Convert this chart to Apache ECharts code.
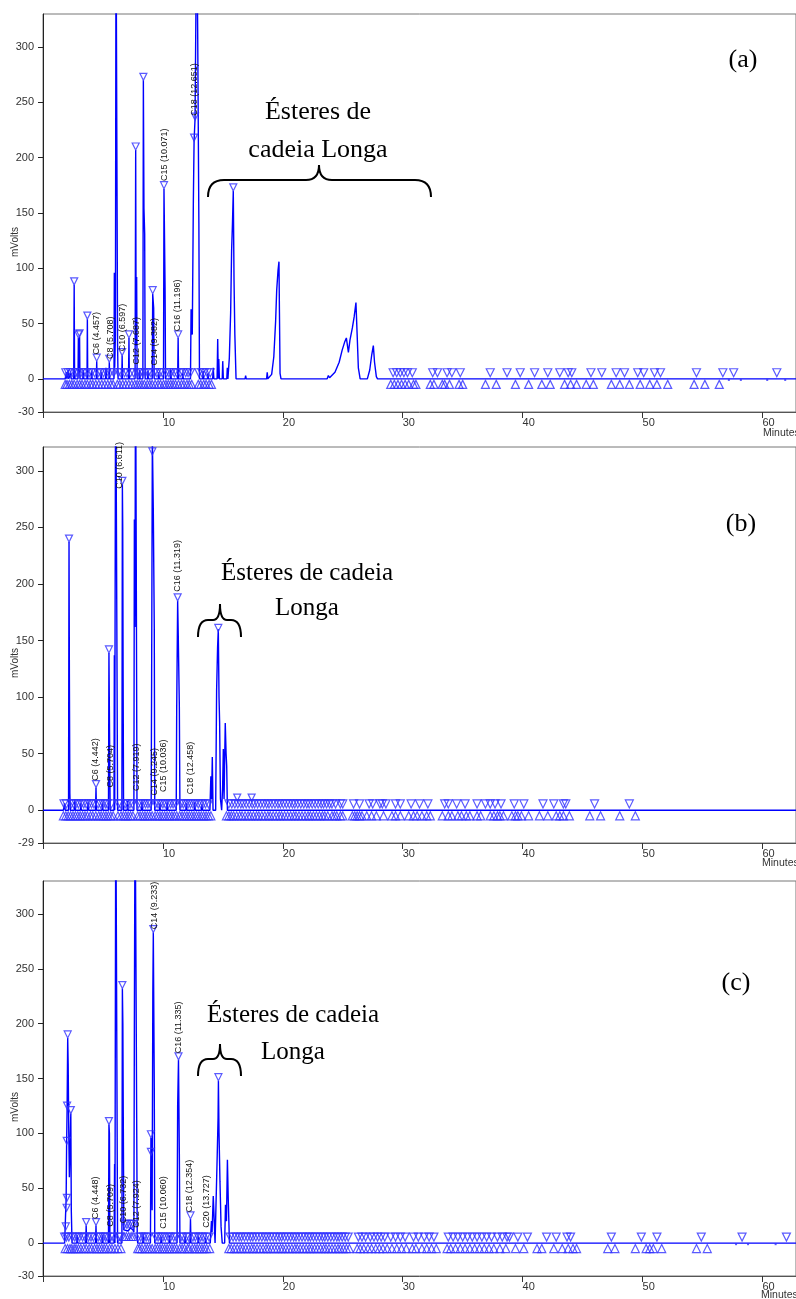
<!DOCTYPE html>
<html><head><meta charset="utf-8">
<script src="https://cdn.jsdelivr.net/npm/echarts@6/dist/echarts.min.js"></script>
<style>html,body{margin:0;padding:0;background:#fff}#c{width:796px;height:1299px}</style>
</head><body><div id="c"></div>
<script>
// ---------- axes ----------
const X_MAX = 62.8;
const xTicks = [0,10,20,30,40,50,60];
const xTickLabels = [10,20,30,40,50,60];
const yTicksA = [-30,0,50,100,150,200,250,300];
const yTicksB = [-29,0,50,100,150,200,250,300];
const yTicksC = [-30,0,50,100,150,200,250,300];
const yRangeA = [-30,330];
const yRangeB = [-29,321];
const yRangeC = [-30,330];

// ---------- panel (a) ----------
const traceA = [[0,0],[1.85,0],[1.95,6],[2.0,0],[2.1,8],[2.15,0],[2.3,5],[2.35,0],[2.56,0],[2.6,85],[2.63,10],[2.66,0],[2.92,0],[2.95,37],[3.0,5],[3.05,38],[3.08,0],[3.32,0],[3.35,8],[3.4,0],[3.67,0],[3.7,54],[3.73,0],[4.02,0],[4.05,7],[4.1,0],[4.45,0],[4.48,16],[4.51,0],[4.82,0],[4.85,6],[4.9,0],[5.22,0],[5.25,10],[5.3,0],[5.5,0],[5.53,15],[5.56,0],[5.92,0],[5.95,96],[5.98,10],[6.04,40],[6.09,420],[6.18,420],[6.22,30],[6.26,0],[6.57,0],[6.6,21],[6.63,0],[7.13,0],[7.17,37],[7.2,0],[7.68,0],[7.73,207],[7.77,30],[7.81,92],[7.85,0],[8.02,0],[8.05,8],[8.1,0],[8.33,0],[8.37,270],[8.42,154],[8.48,131],[8.52,0],[8.72,0],[8.75,7],[8.8,0],[9.11,0],[9.15,77],[9.23,64],[9.27,0],[9.62,0],[9.65,6],[9.7,0],[10.05,0],[10.09,172],[10.18,83],[10.22,0],[10.62,0],[10.65,8],[10.7,0],[11.23,0],[11.27,37],[11.31,0],[11.62,0],[11.65,5],[11.7,0],[12.3,0],[12.35,63],[12.45,40],[12.54,162],[12.6,215],[12.68,235],[12.82,420],[12.9,315],[13.0,141],[13.05,0],[13.32,0],[13.35,7],[13.4,0],[13.72,0],[13.75,5],[13.8,0],[14.15,0],[14.2,10],[14.25,0],[14.52,0],[14.57,36],[14.62,0],[14.66,18],[14.71,0],[14.95,0],[14.99,16],[15.04,0],[15.33,0],[15.37,10],[15.42,0],[15.54,19],[15.65,60],[15.73,116],[15.8,140],[15.87,170],[15.93,90],[16.0,40],[16.1,0],[16.85,0],[16.9,3],[16.95,0],[18.65,0],[18.7,6],[18.75,0],[19.07,4],[19.25,20],[19.4,52],[19.49,80],[19.6,98],[19.68,106],[19.72,60],[19.77,5],[19.85,0],[23.7,0],[23.8,3],[23.9,1],[24.35,6],[24.7,15],[24.95,26],[25.15,33],[25.3,37],[25.47,24],[25.6,35],[25.8,46],[25.95,56],[26.1,69],[26.2,40],[26.3,10],[26.45,0],[27.05,0],[27.25,8],[27.42,22],[27.55,30],[27.65,15],[27.8,2],[27.9,0],[62.8,0]];
const peaksA = [[2.6,85],[2.95,37],[3.05,38],[3.7,54],[4.48,16],[5.53,15],[6.6,21],[7.17,37],[7.73,207],[8.37,270],[9.15,77],[10.09,172],[11.27,37],[12.6,215],[12.68,234],[15.87,170]];
const downA = [1.9,2.1,2.3,2.5,2.75,2.9,3.15,3.4,3.6,3.85,4.05,4.3,4.6,4.8,5.05,5.3,5.6,5.9,6.3,6.5,6.8,7.0,7.3,7.55,7.9,8.1,8.3,8.55,8.8,9.0,9.3,9.5,9.75,9.95,10.3,10.5,10.7,10.95,11.15,11.45,11.65,11.9,12.1,12.3,13.0,13.25,13.45,13.7,13.95,29.2,29.5,29.8,30.1,30.4,30.8,32.5,32.9,33.7,34.1,34.8,37.3,38.7,39.8,41.0,42.1,43.1,43.8,44.1,45.7,46.6,47.8,48.5,49.6,50.1,51.0,51.5,54.5,56.7,57.6,61.2];
const upA = [1.85,2.0,2.2,2.4,2.6,2.85,3.05,3.25,3.5,3.7,3.95,4.15,4.4,4.65,4.9,5.15,5.4,5.65,5.85,6.2,6.4,6.65,6.9,7.15,7.4,7.65,7.85,8.05,8.25,8.45,8.7,8.9,9.1,9.35,9.6,9.8,10.05,10.25,10.45,10.65,10.85,11.05,11.3,11.55,11.75,12.0,12.2,12.4,12.95,13.15,13.4,13.6,13.85,14.05,29.0,29.3,29.6,29.9,30.2,30.5,30.9,31.1,32.3,32.6,33.3,33.5,33.9,34.7,35.0,36.9,37.8,39.4,40.5,41.6,42.3,43.5,44.0,44.5,45.3,45.9,47.4,48.1,48.9,49.8,50.6,51.2,52.1,54.3,55.2,56.4];
const dotsA = [57.2,58.2,60.4,61.9];
const labelNamesA = ['C6 (4.457)','C8 (5.708)','C10 (6.597)','C12 (7.687)','C14 (9.382)','C15 (10.071)','C16 (11.196)','C18 (12.651)'];
const labelAtA = [[4.5,22],[5.65,18],[6.6,25],[7.84,13],[9.34,12],[10.1,179],[11.26,43],[12.6,238]];

// ---------- panel (b) ----------
const traceB = [[0,0],[1.7,0],[1.8,6],[1.85,0],[2.13,0],[2.17,237],[2.2,119],[2.24,15],[2.28,0],[2.62,0],[2.65,8],[2.7,0],[3.12,0],[3.15,6],[3.2,0],[3.72,0],[3.75,7],[3.8,0],[4.38,0],[4.42,20],[4.46,0],[4.92,0],[4.95,6],[5.0,0],[5.46,0],[5.5,139],[5.55,68],[5.6,0],[5.92,0],[5.95,137],[5.98,0],[6.02,0],[6.06,420],[6.18,420],[6.22,0],[6.58,0],[6.62,288],[6.65,249],[6.68,124],[6.72,0],[7.02,0],[7.05,8],[7.1,0],[7.58,0],[7.62,257],[7.67,162],[7.72,420],[7.8,420],[7.84,0],[8.22,0],[8.25,7],[8.3,0],[9.02,0],[9.06,117],[9.12,330],[9.2,264],[9.28,162],[9.32,0],[9.72,0],[9.75,6],[9.8,0],[10.32,0],[10.35,7],[10.4,0],[11.11,0],[11.15,88],[11.23,185],[11.28,155],[11.37,92],[11.42,0],[11.92,0],[11.95,6],[12.0,0],[12.62,0],[12.65,7],[12.7,0],[13.22,0],[13.25,5],[13.3,0],[13.92,0],[14.0,30],[14.06,10],[14.12,47],[14.18,0],[14.4,0],[14.48,106],[14.56,144],[14.62,160],[14.68,100],[14.73,78],[14.8,10],[14.9,0],[14.98,20],[15.04,54],[15.1,10],[15.2,77],[15.27,50],[15.32,39],[15.38,0],[62.8,0]];
const peaksB = [[2.17,237],[4.42,20],[5.5,139],[6.62,288],[9.12,314],[11.23,185],[14.62,158],[16.2,8],[17.4,8]];
const downB = [1.75,1.95,2.35,2.55,2.75,2.95,3.2,3.4,3.6,3.85,4.05,4.25,4.6,4.8,5.0,5.2,5.35,5.7,6.3,6.45,6.85,7.05,7.25,7.45,7.95,8.15,8.35,8.55,8.75,8.95,9.4,9.6,9.8,10.0,10.2,10.45,10.65,10.85,11.05,11.5,11.7,11.9,12.1,12.3,12.5,12.7,12.95,13.15,13.35,13.55,13.8,15.5,15.75,16.0,16.25,16.5,16.7,16.95,17.2,17.45,17.65,17.9,18.15,18.4,18.65,18.85,19.1,19.35,19.6,19.8,20.05,20.3,20.55,20.8,21.0,21.25,21.5,21.75,22.0,22.2,22.45,22.7,22.95,23.2,23.4,23.65,23.9,24.1,24.4,24.8,25.0,25.9,26.4,27.2,27.5,28.1,28.3,28.6,29.4,29.8,30.7,31.4,32.1,33.5,33.8,34.5,35.2,36.2,36.9,37.3,37.7,38.2,39.3,40.1,41.7,42.6,43.4,43.6,46.0,48.9];
const upB = [1.7,1.9,2.1,2.3,2.5,2.7,2.9,3.1,3.3,3.5,3.7,3.95,4.15,4.4,4.65,4.85,5.05,5.25,5.45,5.65,5.85,6.25,6.5,6.7,6.9,7.1,7.3,7.5,7.9,8.1,8.3,8.5,8.7,8.9,9.1,9.35,9.55,9.75,9.95,10.15,10.35,10.55,10.75,10.95,11.15,11.4,11.6,11.8,12.0,12.2,12.4,12.6,12.8,13.0,13.2,13.4,13.6,13.8,14.0,15.3,15.5,15.7,15.9,16.15,16.4,16.6,16.85,17.1,17.3,17.55,17.8,18.0,18.25,18.5,18.75,18.95,19.2,19.45,19.7,19.9,20.15,20.4,20.65,20.9,21.1,21.35,21.6,21.85,22.1,22.3,22.55,22.8,23.05,23.3,23.5,23.75,24.1,24.3,24.5,24.8,25.0,25.8,26.0,26.2,26.4,26.6,27.0,27.4,27.8,28.4,29.1,29.4,29.8,30.5,30.9,31.2,31.6,32.0,32.3,33.3,33.8,34.1,34.6,34.9,35.3,35.6,36.2,36.5,37.3,37.6,37.9,38.1,38.4,39.1,39.4,39.6,39.9,40.5,41.4,42.1,42.8,43.1,43.4,43.9,45.6,46.5,48.1,49.4];
const dotsB = [];
const labelNamesB = ['C6 (4.442)','C8 (5.704)','C10 (6.611)','C12 (7.919)','C14 (9.245)','C15 (10.036)','C16 (11.319)','C18 (12.458)'];
const labelAtB = [[4.42,26],[5.65,20],[6.42,284],[7.81,17],[9.26,13],[10.03,16],[11.23,193],[12.34,14]];

// ---------- panel (c) ----------
const traceC = [[0,0],[1.8,0],[1.84,12],[1.88,25],[1.93,40],[1.97,90],[2.01,122],[2.06,187],[2.1,163],[2.15,100],[2.2,60],[2.25,85],[2.32,118],[2.36,30],[2.42,0],[2.82,0],[2.85,7],[2.9,0],[3.56,0],[3.6,16],[3.64,0],[4.38,0],[4.42,16],[4.46,0],[4.92,0],[4.95,7],[5.0,0],[5.46,0],[5.5,108],[5.54,100],[5.58,0],[5.93,0],[5.97,72],[6.0,0],[6.03,0],[6.07,420],[6.18,420],[6.22,0],[6.58,0],[6.62,232],[6.66,200],[6.7,104],[6.74,12],[6.9,13],[7.1,11],[7.3,14],[7.5,12],[7.58,10],[7.62,198],[7.68,420],[7.82,420],[7.86,5],[7.9,0],[8.32,0],[8.35,8],[8.4,0],[8.96,0],[9.0,96],[9.04,80],[9.1,30],[9.16,228],[9.2,283],[9.28,143],[9.32,0],[9.82,0],[9.85,6],[9.9,0],[10.52,0],[10.55,7],[10.6,0],[11.18,0],[11.23,125],[11.3,167],[11.37,82],[11.42,0],[11.82,0],[11.85,6],[11.9,0],[12.26,0],[12.3,22],[12.34,0],[12.92,0],[12.95,6],[13.0,0],[13.52,0],[13.55,5],[13.6,0],[13.95,0],[14.05,20],[14.1,10],[14.2,43],[14.28,20],[14.35,0],[14.45,0],[14.53,80],[14.6,114],[14.63,148],[14.68,100],[14.76,56],[14.85,15],[14.95,0],[15.15,0],[15.22,35],[15.3,20],[15.38,76],[15.45,40],[15.55,0],[62.8,0]];
const peaksC = [[1.9,12],[1.97,29],[1.99,38],[1.98,90],[2.01,122],[2.06,187],[2.32,118],[3.6,16],[4.42,16],[5.5,108],[6.62,232],[9.0,80],[9.0,96],[9.2,283],[11.3,167],[12.3,22],[14.63,148]];
const downC = [1.8,1.95,2.15,2.45,2.65,2.85,3.05,3.3,3.5,3.8,4.0,4.2,4.6,4.8,5.0,5.2,5.35,5.65,5.85,6.3,6.45,7.95,8.15,8.4,8.6,8.8,9.4,9.6,9.8,10.0,10.2,10.45,10.65,10.9,11.1,11.5,11.7,11.95,12.15,12.5,12.7,12.95,13.15,13.35,13.6,13.85,15.6,15.85,16.1,16.35,16.55,16.8,17.05,17.3,17.5,17.75,18.0,18.25,18.5,18.7,18.95,19.2,19.45,19.7,19.9,20.15,20.4,20.65,20.9,21.1,21.35,21.6,21.85,22.1,22.3,22.55,22.8,23.05,23.3,23.5,23.75,24.0,24.25,24.5,24.7,24.95,25.2,25.45,26.3,26.6,26.9,27.3,27.6,27.9,28.2,28.5,29.0,29.4,29.8,30.2,30.9,31.3,31.8,32.2,32.6,33.8,34.2,34.6,35.0,35.4,35.8,36.2,36.6,37.0,37.4,37.9,38.3,38.7,38.9,39.6,40.4,42.0,42.8,43.7,44.0,47.4,49.9,51.2,54.9,58.3,62.0];
const upC = [1.85,2.05,2.25,2.4,2.6,2.75,2.95,3.15,3.4,3.6,3.85,4.05,4.3,4.5,4.7,4.9,5.1,5.3,5.55,5.75,6.0,6.25,6.5,7.9,8.05,8.25,8.5,8.7,8.9,9.1,9.35,9.55,9.75,9.95,10.15,10.35,10.55,10.75,10.95,11.15,11.4,11.6,11.8,12.05,12.2,12.45,12.65,12.85,13.05,13.25,13.45,13.65,13.9,15.5,15.7,15.95,16.2,16.45,16.65,16.9,17.15,17.4,17.6,17.85,18.1,18.35,18.6,18.8,19.05,19.3,19.55,19.8,20.0,20.25,20.5,20.75,21.0,21.2,21.45,21.7,21.95,22.2,22.4,22.65,22.9,23.15,23.4,23.6,23.85,24.1,24.35,24.6,24.8,25.05,25.3,25.55,26.2,26.45,26.75,27.1,27.4,27.75,28.05,28.35,28.7,29.1,29.5,29.9,30.3,30.8,31.1,31.6,32.0,32.4,32.8,33.7,34.0,34.4,34.8,35.2,35.6,36.0,36.4,36.8,37.2,37.6,38.1,38.6,39.4,40.1,41.2,41.6,42.6,43.3,43.8,44.2,44.5,47.1,47.7,49.4,50.3,50.6,50.9,51.6,54.5,55.4];
const raisedDownC = [6.8,7.0,7.2,7.4,7.55];
const raisedUpC = [6.75,6.95,7.15,7.35,7.5];
const dotsC = [57.8,58.8,61.1];
const labelNamesC = ['C6 (4.448)','C8 (5.709)','C10 (6.732)','C12 (7.924)','C14 (9.233)','C15 (10.060)','C16 (11.335)','C18 (12.354)','C20 (13.727)'];
const labelAtC = [[4.42,22],[5.67,15],[6.7,18],[7.8,14],[9.26,286],[10.03,13],[11.28,173],[12.26,28],[13.65,14]];

// ---------- build ----------
const panels = [
  {top:14, height:398, range:yRangeA, ticks:yTicksA, trace:traceA, peaks:peaksA, down:downA, up:upA, dots:dotsA, rDown:[], rUp:[], names:labelNamesA, at:labelAtA},
  {top:447, height:396, range:yRangeB, ticks:yTicksB, trace:traceB, peaks:peaksB, down:downB, up:upB, dots:dotsB, rDown:[], rUp:[], names:labelNamesB, at:labelAtB},
  {top:881, height:395, range:yRangeC, ticks:yTicksC, trace:traceC, peaks:peaksC, down:downC, up:upC, dots:dotsC, rDown:raisedDownC, rUp:raisedUpC, names:labelNamesC, at:labelAtC}
];
const SANS = 'Liberation Sans, Arial, sans-serif';
const SERIF = 'Liberation Serif, Times New Roman, serif';
const MARK = '#2f2fff';
const triStyle = {color:'rgba(0,0,0,0)', borderColor:MARK, borderWidth:1.2};
const TRI = [8,8];

const grid=[], xAxis=[], yAxis=[], series=[];
panels.forEach((p,i)=>{
  grid.push({left:43, right:-2, top:p.top, height:p.height, show:true, borderColor:'#777', borderWidth:1, backgroundColor:'rgba(0,0,0,0)'});
  xAxis.push({type:'value', gridIndex:i, min:0, max:X_MAX,
    axisLine:{show:true, onZero:false, lineStyle:{color:'#555', width:1}},
    axisTick:{show:true, customValues:xTicks, length:6, lineStyle:{color:'#333'}},
    axisLabel:{customValues:xTickLabels, align:'left', margin:5, fontSize:11, color:'#333', fontFamily:SANS},
    splitLine:{show:false}});
  yAxis.push({type:'value', gridIndex:i, min:p.range[0], max:p.range[1],
    axisLine:{show:true, onZero:false, lineStyle:{color:'#222', width:1}},
    axisTick:{show:true, customValues:p.ticks, length:5, lineStyle:{color:'#222'}},
    axisLabel:{customValues:p.ticks, fontSize:11, color:'#333', margin:9, fontFamily:SANS},
    splitLine:{show:false}});
  series.push({type:'line', xAxisIndex:i, yAxisIndex:i, data:p.trace, symbol:'none', showSymbol:false,
    lineStyle:{color:'#0000ff', width:1.4}, clip:true, z:3});
  series.push({type:'scatter', xAxisIndex:i, yAxisIndex:i, data:p.peaks, symbol:'triangle', symbolRotate:180,
    symbolSize:[7,7], symbolOffset:[0,-3.5], itemStyle:triStyle, clip:false, z:4});
  series.push({type:'scatter', xAxisIndex:i, yAxisIndex:i, data:p.down.map(t=>[t,5.5]), symbol:'triangle', symbolRotate:180,
    symbolSize:TRI, itemStyle:triStyle, z:4});
  series.push({type:'scatter', xAxisIndex:i, yAxisIndex:i, data:p.up.map(t=>[t,-5]), symbol:'triangle',
    symbolSize:TRI, itemStyle:triStyle, z:4});
  if (p.rDown.length) {
    series.push({type:'scatter', xAxisIndex:i, yAxisIndex:i, data:p.rDown.map(t=>[t,17]), symbol:'triangle', symbolRotate:180,
      symbolSize:TRI, itemStyle:triStyle, z:4});
    series.push({type:'scatter', xAxisIndex:i, yAxisIndex:i, data:p.rUp.map(t=>[t,6]), symbol:'triangle',
      symbolSize:TRI, itemStyle:triStyle, z:4});
  }
  if (p.dots.length) {
    series.push({type:'scatter', xAxisIndex:i, yAxisIndex:i, data:p.dots.map(t=>[t,-1]), symbol:'rect',
      symbolSize:[2,2], itemStyle:{color:MARK}, z:4});
  }
  const names = p.names;
  series.push({type:'custom', xAxisIndex:i, yAxisIndex:i, data:p.at, z:5,
    renderItem:(params, api)=>{
      const c = api.coord([api.value(0), api.value(1)]);
      return {type:'text', x:c[0], y:c[1], rotation:Math.PI/2,
        style:{text:names[params.dataIndex], fontSize:9, fontFamily:SANS, fill:'#111', align:'left', verticalAlign:'middle'}};
    }});
});

function txt(x,y,text,size,family){
  return {type:'text', x:x, y:y, z:10, style:{text:text, fontSize:size, fontFamily:family, fill:'#000', align:'center', verticalAlign:'middle'}};
}
function vtxt(x,y,text){
  return {type:'text', x:x, y:y, rotation:Math.PI/2, z:10, style:{text:text, fontSize:10, fontFamily:SANS, fill:'#333', align:'center', verticalAlign:'middle'}};
}
function ltxt(x,y,text){
  return {type:'text', x:x, y:y, z:10, style:{text:text, fontSize:10.5, fontFamily:SANS, fill:'#333', align:'left', verticalAlign:'middle'}};
}
// horizontal curly brace (annotation) as bezier + line pieces
function brace(x1, x2, xm, yEnd, yBar, yTip, r, tw){
  const st = {stroke:'#000', lineWidth:2, fill:'none'};
  const dE = (yEnd-yBar)*0.35, dT = (yBar-yTip)*0.35;
  const bz = (a,b,c,d,e,f,g,h)=>({type:'bezierCurve', z:10, shape:{x1:a,y1:b,cpx1:c,cpy1:d,cpx2:e,cpy2:f,x2:g,y2:h}, style:st});
  const ln = (a,b,c,d)=>({type:'line', z:10, shape:{x1:a,y1:b,x2:c,y2:d}, style:st});
  return [
    bz(x1,yEnd, x1,yBar+dE, x1+r*0.35,yBar, x1+r,yBar),
    ln(x1+r,yBar, xm-tw,yBar),
    bz(xm-tw,yBar, xm-tw*0.35,yBar, xm,yBar-dT, xm,yTip),
    bz(xm,yTip, xm,yBar-dT, xm+tw*0.35,yBar, xm+tw,yBar),
    ln(xm+tw,yBar, x2-r,yBar),
    bz(x2-r,yBar, x2-r*0.35,yBar, x2,yBar+dE, x2,yEnd)
  ];
}

const graphic = [
  vtxt(15,242,'mVolts'), vtxt(15,663,'mVolts'), vtxt(15,1107,'mVolts'),
  ltxt(763,433,'Minutes'), ltxt(762,863,'Minutes'), ltxt(761,1295,'Minutes'),
  txt(743,60,'(a)',26,SERIF), txt(741,524,'(b)',26,SERIF), txt(736,983,'(c)',26,SERIF),
  txt(318,112,'Ésteres de',26,SERIF), txt(318,150,'cadeia Longa',26,SERIF),
  txt(307,573,'Ésteres de cadeia',25,SERIF), txt(307,608,'Longa',25,SERIF),
  txt(293,1015,'Ésteres de cadeia',25,SERIF), txt(293,1052,'Longa',25,SERIF)
].concat(
  brace(208,431,319,197,180,165,16,13),
  brace(198,241,220,637,620,604,10,7),
  brace(198,241,220,1076,1059,1044,10,7)
);

const chart = echarts.init(document.getElementById('c'), null, {renderer:'canvas'});
chart.setOption({animation:false, backgroundColor:'#fff', grid, xAxis, yAxis, series, graphic});
</script></body></html>
